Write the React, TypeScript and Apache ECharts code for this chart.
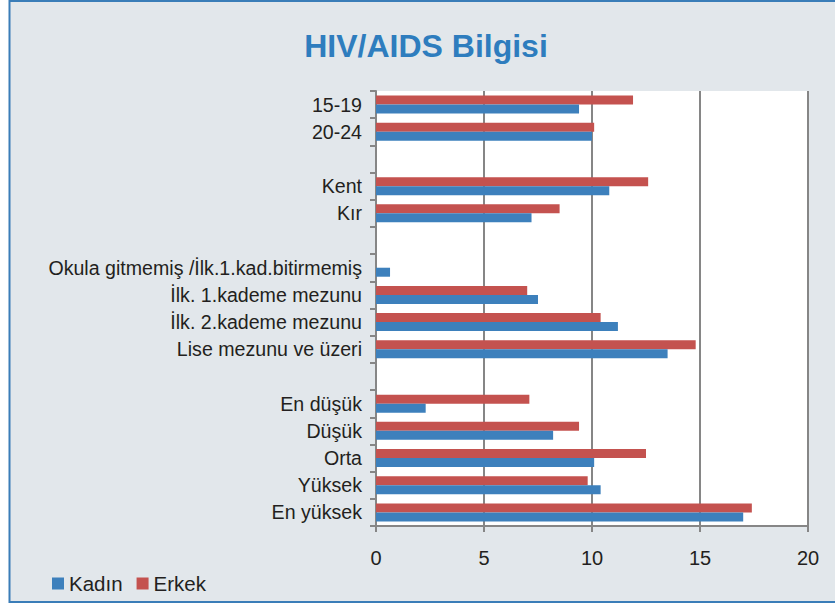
import React, { useEffect, useRef } from "react";
import * as echarts from "echarts";

const categories = [
  "15-19",
  "20-24",
  " ",
  "Kent",
  "Kır",
  "  ",
  "Okula gitmemiş /İlk.1.kad.bitirmemiş",
  "İlk. 1.kademe mezunu",
  "İlk. 2.kademe mezunu",
  "Lise mezunu ve üzeri",
  "   ",
  "En düşük",
  "Düşük",
  "Orta",
  "Yüksek",
  "En yüksek",
];

const kadin = [9.4, 10.0, null, 10.8, 7.2, null, 0.65, 7.5, 11.2, 13.5, null, 2.3, 8.2, 10.1, 10.4, 17.0];
const erkek = [11.9, 10.1, null, 12.6, 8.5, null, null, 7.0, 10.4, 14.8, null, 7.1, 9.4, 12.5, 9.8, 17.4];

const xTicks = { min: 0, max: 20, interval: 5 };

const FONT = "'Liberation Sans', Arial, sans-serif";
const TEXT = "#231F20";
const GRID = "#868686";

export default function App() {
  const ref = useRef<HTMLDivElement>(null);
  useEffect(() => {
    if (!ref.current) return;
    const chart = echarts.init(ref.current, null, { renderer: "svg" });
    chart.setOption({
      animation: false,
      backgroundColor: "#ffffff",
      textStyle: { fontFamily: FONT },
      graphic: [
        {
          type: "rect",
          z: -10,
          silent: true,
          shape: { x: 9.5, y: 1, width: 840, height: 601 },
          style: { fill: "#E2E7EB", stroke: "#3A7DB8", lineWidth: 2 },
        },
        {
          type: "text",
          x: 426,
          y: 46,
          style: {
            text: "HIV/AIDS Bilgisi",
            fill: "#2E7DBE",
            font: "bold 32px " + FONT,
            textAlign: "center",
            textVerticalAlign: "middle",
          },
        },
      ],
      legend: {
        left: 47,
        top: 568,
        itemWidth: 12,
        itemHeight: 12,
        itemGap: 14,
        icon: "rect",
        data: ["Kadın", "Erkek"],
        textStyle: { color: TEXT, fontSize: 20.5, fontFamily: FONT },
      },
      grid: {
        left: 376,
        top: 91,
        width: 432,
        height: 435,
        show: true,
        backgroundColor: "#ffffff",
        borderWidth: 0,
        containLabel: false,
      },
      xAxis: {
        type: "value",
        min: xTicks.min,
        max: xTicks.max,
        interval: xTicks.interval,
        axisLine: { show: true, lineStyle: { color: GRID, width: 2 } },
        axisTick: { show: true, length: 6, lineStyle: { color: GRID, width: 2 } },
        splitLine: { show: true, lineStyle: { color: GRID, width: 2 } },
        axisLabel: { color: TEXT, fontSize: 20, fontFamily: FONT, margin: 22 },
      },
      yAxis: {
        type: "category",
        inverse: true,
        data: categories,
        axisLine: { show: true, lineStyle: { color: GRID, width: 2 } },
        axisTick: { show: true, length: 6, lineStyle: { color: GRID, width: 2 } },
        axisLabel: { color: TEXT, fontSize: 19.6, fontFamily: FONT, margin: 14 },
        splitLine: { show: false },
      },
      series: [
        {
          name: "Erkek",
          type: "bar",
          data: erkek,
          barWidth: 9,
          barGap: "0%",
          itemStyle: { color: "#C4524F" },
        },
        {
          name: "Kadın",
          type: "bar",
          data: kadin,
          barWidth: 9,
          barGap: "0%",
          itemStyle: { color: "#3D80BC" },
        },
      ],
    });
    return () => chart.dispose();
  }, []);
  return (
    <div
      ref={ref}
      style={{ position: "fixed", left: 0, top: 0, width: 835, height: 604 }}
    />
  );
}
